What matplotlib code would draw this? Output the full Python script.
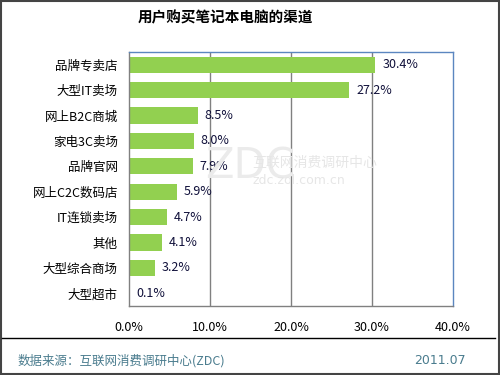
import matplotlib
matplotlib.use("Agg")
import matplotlib.pyplot as plt
from matplotlib.lines import Line2D
from matplotlib.patches import Rectangle

plt.rcParams['font.family'] = ['Noto Sans CJK SC', 'DejaVu Sans']

categories = ["品牌专卖店", "大型IT卖场", "网上B2C商城", "家电3C卖场", "品牌官网",
              "网上C2C数码店", "IT连锁卖场", "其他", "大型综合商场", "大型超市"]
values = [30.4, 27.2, 8.5, 8.0, 7.9, 5.9, 4.7, 4.1, 3.2, 0.1]
xticks = [0, 10, 20, 30, 40]
title = "用户购买笔记本电脑的渠道"
source = "数据来源：互联网消费调研中心(ZDC)"
date = "2011.07"

W, H = 500, 375
fig = plt.figure(figsize=(5, 3.75), dpi=100)
fig.patch.set_facecolor('white')

# outer border
fig.add_artist(Rectangle((0.002, 0.003), 0.995, 0.994, transform=fig.transFigure,
                         fill=False, edgecolor='#444444', linewidth=1.5))

left, right, top, bottom = 129, 453, 52, 306
ax = fig.add_axes([left / W, 1 - bottom / H, (right - left) / W, (bottom - top) / H])
ypos = list(range(len(categories)))
ax.barh(ypos, values, height=0.63, color='#92D050', zorder=2)
ax.set_ylim(len(categories) - 0.5, -0.5)
ax.set_xlim(0, 40)
ax.set_xticks(xticks)
ax.set_xticklabels([f"{t:.1f}%" for t in xticks], fontsize=9, color='#000000')
ax.set_yticks(ypos)
ax.set_yticklabels(categories, fontsize=9)
ax.tick_params(length=0)
ax.tick_params(axis='x', pad=11)
ax.tick_params(axis='y', pad=8)
for t in xticks[1:-1]:
    ax.axvline(t, color='#808080', linewidth=1, zorder=1)
for s in ['top', 'right']:
    ax.spines[s].set_color('#5B86C0')
for s in ['left', 'bottom']:
    ax.spines[s].set_color('#808080')
for s in ax.spines.values():
    s.set_linewidth(1)

for y, v in zip(ypos, values):
    ax.annotate(f"{v:.1f}%", (v, y), xytext=(5, 0), textcoords='offset points',
                va='center', ha='left', fontsize=9, color='#10103A', zorder=3)

# watermark
fig.text(0.41, 0.555, "ZDC", fontsize=30, color='#EBEBEB',
         ha='left', va='center', family='DejaVu Sans', zorder=0)
fig.text(0.505, 0.565, "互联网消费调研中心", fontsize=10, color='#E6E6E6',
         ha='left', va='center', zorder=0)
fig.text(0.505, 0.52, "zdc.zol.com.cn", fontsize=9, color='#E6E6E6',
         ha='left', va='center', family='DejaVu Sans', zorder=0)

fig.text(225 / W, 1 - 17 / H, title, fontsize=10.5, fontweight='bold',
         ha='center', va='center', color='#000000')

fig.add_artist(Line2D([0.003, 0.99], [1 - 338 / H, 1 - 338 / H],
                      transform=fig.transFigure, color='#000000', linewidth=1))
fig.text(18 / W, 1 - 361 / H, source, fontsize=9, color='#4A7C8E',
         ha='left', va='center')
fig.text(466 / W, 1 - 361 / H, date, fontsize=9, color='#4A7C8E',
         ha='right', va='center', family='DejaVu Sans')

fig.savefig("out.png", dpi=100)
